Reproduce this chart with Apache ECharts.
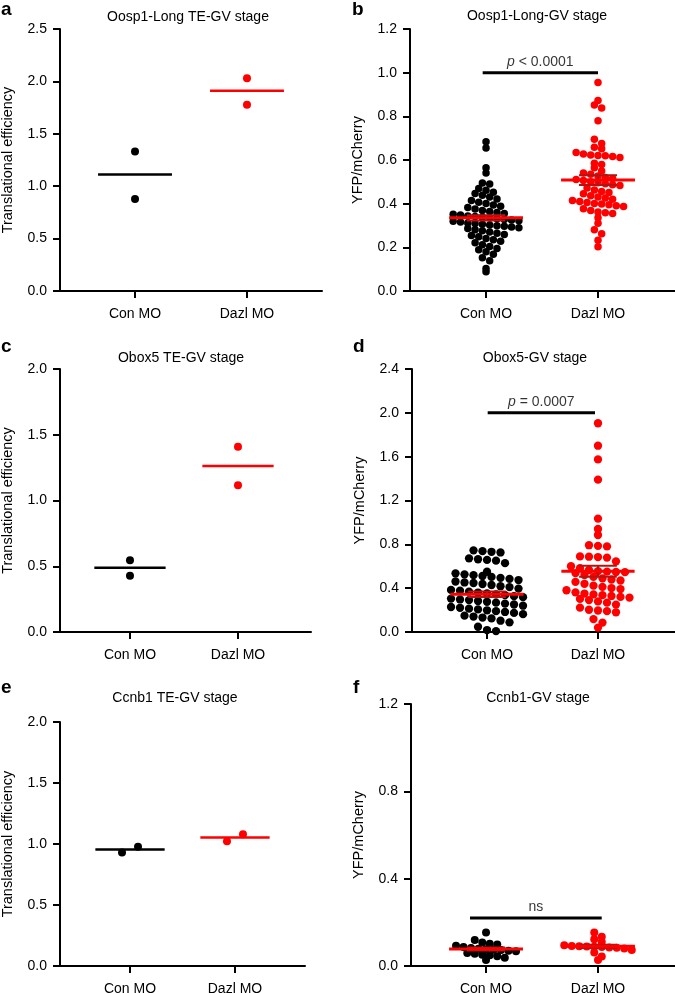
<!DOCTYPE html>
<html><head><meta charset="utf-8">
<script src="https://cdn.jsdelivr.net/npm/echarts@6/dist/echarts.min.js"></script>
<style>html,body{margin:0;padding:0;background:#fff}#c{width:675px;height:993px}</style>
</head><body><div id="c"></div>
<script>
// ---------------- data ----------------
const categories = ['Con MO', 'Dazl MO'];

// a: Oosp1-Long TE-GV stage
const aCon = [1.331, 0.879];
const aDazl = [2.029, 1.777];
const aMean = [1.111, 1.911];

// b: Oosp1-Long-GV stage
const bCon = [0.684, 0.655, 0.565, 0.54, 0.495, 0.49,
  0.47, 0.461, 0.452,
  0.446, 0.438, 0.43, 0.421,
  0.414, 0.407, 0.401, 0.394, 0.388,
  0.382, 0.376, 0.369, 0.364, 0.359, 0.355,
  0.351, 0.348, 0.344, 0.341, 0.338, 0.334, 0.331, 0.328, 0.325, 0.322,
  0.319, 0.316, 0.312, 0.309, 0.306, 0.302, 0.299, 0.296, 0.293, 0.29,
  0.286, 0.281, 0.276, 0.27, 0.265, 0.259,
  0.254, 0.248, 0.241, 0.235, 0.228,
  0.221, 0.212, 0.204, 0.195,
  0.189, 0.18, 0.168,
  0.152, 0.138,
  0.103, 0.088];
const bDazl = [0.955, 0.872, 0.852, 0.838, 0.78, 0.695, 0.676, 0.658, 0.652,
  0.634, 0.627, 0.623, 0.621, 0.619, 0.616, 0.612,
  0.585, 0.579,
  0.565, 0.55,
  0.541, 0.535, 0.527, 0.52, 0.515,
  0.511, 0.506, 0.5, 0.496, 0.491, 0.487, 0.483,
  0.472, 0.463, 0.456, 0.451,
  0.445, 0.436, 0.43, 0.426, 0.42,
  0.414, 0.41, 0.405, 0.401, 0.398, 0.395, 0.391, 0.387,
  0.377, 0.369, 0.362, 0.358, 0.355,
  0.336, 0.31, 0.281, 0.262, 0.232, 0.203];
const bMean = [0.335, 0.508];
const bSem = [0.012, 0.022];

// c: Obox5 TE-GV stage
const cCon = [0.546, 0.427];
const cDazl = [1.408, 1.116];
const cMean = [0.488, 1.263];

// d: Obox5-GV stage
const dCon = [0.745, 0.738, 0.732, 0.726,
  0.672, 0.664, 0.658, 0.651, 0.628,
  0.55,
  0.535, 0.526, 0.519, 0.511, 0.503, 0.494, 0.485, 0.474,
  0.461, 0.452, 0.447, 0.438, 0.429, 0.418, 0.41, 0.396,
  0.384, 0.377, 0.369, 0.36, 0.352, 0.344, 0.336, 0.327, 0.318,
  0.305, 0.297, 0.291, 0.283, 0.276, 0.268, 0.259, 0.251, 0.24,
  0.228, 0.221, 0.213, 0.206, 0.198, 0.19, 0.183, 0.174, 0.163,
  0.149, 0.141, 0.132, 0.124, 0.103, 0.088,
  0.048, 0.018, 0.008];
const dDazl = [1.905, 1.70, 1.575, 1.39, 1.035, 0.94, 0.885,
  0.792, 0.786, 0.781,
  0.69, 0.687, 0.684, 0.679, 0.645,
  0.60, 0.582, 0.566, 0.556, 0.551, 0.548, 0.546,
  0.538, 0.52, 0.503, 0.49, 0.479, 0.47,
  0.458, 0.44, 0.423, 0.412, 0.401, 0.392,
  0.381, 0.362, 0.351, 0.343, 0.336, 0.329, 0.32, 0.314,
  0.302, 0.291, 0.279, 0.268, 0.25,
  0.222, 0.203, 0.196, 0.19, 0.18,
  0.118, 0.086, 0.04];
const dMean = [0.345, 0.555];
const dSem = [0.025, 0.05];

// e: Ccnb1 TE-GV stage
const eCon = [0.93, 0.977];
const eDazl = [1.023, 1.08];
const eMean = [0.955, 1.053];

// f: Ccnb1-GV stage
const fCon = [0.153, 0.119, 0.108, 0.102, 0.098, 0.093, 0.087, 0.083, 0.079, 0.077,
  0.075, 0.073, 0.07, 0.067, 0.06, 0.056, 0.052, 0.049, 0.045, 0.038, 0.028];
const fDazl = [0.153, 0.134, 0.122, 0.11, 0.095, 0.092, 0.09, 0.089, 0.088, 0.087,
  0.085, 0.084, 0.08, 0.073, 0.062, 0.043, 0.028];
const fMean = [0.078, 0.09];
const fSem = [0.007, 0.007];

// significance annotations: [x start, x end, y, text]
const sigB = [0.97, 2.0, 1.0, 'p < 0.0001'];
const sigD = [1.006, 1.973, 2.0, 'p = 0.0007'];
const sigF = [0.857, 2.033, 0.22, 'ns'];

// ---------------- chart ----------------
const FONT = '"Liberation Sans", Arial, Helvetica, sans-serif';
const RED = '#ff0000';
const SEMRED = '#b01414';

const panels = [
  {letter:'a', title:'Oosp1-Long TE-GV stage', yName:'Translational efficiency', con:aCon, dazl:aDazl, mean:aMean, sem:null,
   meanColors:['#000', RED], grid:{left:60, top:29, width:262, height:262}, xr:[0.33, 2.67], yr:[0, 2.5, 0.5],
   sym:8, rowH:7, sp:8, letterXY:[1, 0], titleXY:[188, 17], sig:null},
  {letter:'b', title:'Oosp1-Long-GV stage', yName:'YFP/mCherry', con:bCon, dazl:bDazl, mean:bMean, sem:bSem,
   meanColors:[RED, RED], grid:{left:410, top:29, width:265, height:262}, xr:[0.321, 2.6875], yr:[0, 1.2, 0.2],
   sym:7.5, rowH:7, sp:7.3, letterXY:[352, 0], titleXY:[537, 16], sig:sigB},
  {letter:'c', title:'Obox5 TE-GV stage', yName:'Translational efficiency', con:cCon, dazl:cDazl, mean:cMean, sem:null,
   meanColors:['#000', RED], grid:{left:60, top:369, width:251, height:263}, xr:[0.352, 2.676], yr:[0, 2.0, 0.5],
   sym:8, rowH:7, sp:8, letterXY:[1, 337], titleXY:[181, 358], sig:null},
  {letter:'d', title:'Obox5-GV stage', yName:'YFP/mCherry', con:dCon, dazl:dDazl, mean:dMean, sem:dSem,
   meanColors:[RED, RED], grid:{left:412, top:369, width:263, height:263}, xr:[0.324, 2.694], yr:[0, 2.4, 0.4],
   sym:8.3, rowH:8.5, sp:9, letterXY:[353, 337], titleXY:[535, 358], sig:sigD},
  {letter:'e', title:'Ccnb1 TE-GV stage', yName:'Translational efficiency', con:eCon, dazl:eDazl, mean:eMean, sem:null,
   meanColors:['#000', RED], grid:{left:60, top:722, width:245, height:244}, xr:[0.333, 2.667], yr:[0, 2.0, 0.5],
   sym:8, rowH:12, sp:16, letterXY:[1, 678], titleXY:[175, 698], sig:null},
  {letter:'f', title:'Ccnb1-GV stage', yName:'YFP/mCherry', con:fCon, dazl:fDazl, mean:fMean, sem:fSem,
   meanColors:[RED, RED], grid:{left:411, top:704, width:264, height:262}, xr:[0.33, 2.6875], yr:[0, 1.2, 0.4],
   sym:8, rowH:7, sp:7.5, letterXY:[353, 678], titleXY:[538, 698], sig:sigF}
];

const chart = echarts.init(document.getElementById('c'), null, {renderer: 'canvas'});

const axisLineStyle = {color: '#000', width: 2};
const grids = [], xAxes = [], yAxes = [], graphics = [];
panels.forEach((p, i) => {
  grids.push(Object.assign({outerBoundsMode: 'none', containLabel: false}, p.grid));
  xAxes.push({
    type: 'value', gridIndex: i, min: p.xr[0], max: p.xr[1],
    splitLine: {show: false},
    axisLine: {show: true, onZero: false, lineStyle: axisLineStyle},
    axisTick: {show: true, customValues: [1, 2], length: 7, lineStyle: axisLineStyle},
    axisLabel: {show: true, customValues: [1, 2], margin: 16, color: '#000', fontSize: 14, fontFamily: FONT,
      formatter: v => categories[Math.round(v) - 1]}
  });
  yAxes.push({
    type: 'value', gridIndex: i, min: p.yr[0], max: p.yr[1], interval: p.yr[2],
    splitLine: {show: false},
    axisLine: {show: true, onZero: false, lineStyle: axisLineStyle},
    axisTick: {show: true, length: 7, lineStyle: axisLineStyle},
    axisLabel: {margin: 13, color: '#000', fontSize: 14, fontFamily: FONT, formatter: v => v.toFixed(1)},
    name: p.yName, nameLocation: 'middle', nameGap: 45,
    nameTextStyle: {color: '#000', fontSize: 14.5, fontFamily: FONT}
  });
  graphics.push({type: 'text', x: p.letterXY[0], y: p.letterXY[1],
    style: {text: p.letter, font: 'bold 19px ' + FONT, fill: '#000', textVerticalAlign: 'top'}});
  graphics.push({type: 'text', x: p.titleXY[0], y: p.titleXY[1],
    style: {text: p.title, font: '14px ' + FONT, fill: '#000', textAlign: 'center', textVerticalAlign: 'middle'}});
});

chart.setOption({
  animation: false,
  backgroundColor: '#fff',
  grid: grids, xAxis: xAxes, yAxis: yAxes, graphic: graphics, series: []
});

// Prism-like column scatter: points binned into pixel rows, spread horizontally within each row.
function swarm(values, gi, center, rowH, sp) {
  const y0 = chart.convertToPixel({gridIndex: gi}, [center, 0])[1];
  const px = values.map(v => chart.convertToPixel({gridIndex: gi}, [center, v]));
  const rows = new Map();
  values.forEach((v, i) => {
    const k = Math.floor((y0 - px[i][1]) / rowH + 1e-6);
    if (!rows.has(k)) rows.set(k, []);
    rows.get(k).push(i);
  });
  const out = [];
  rows.forEach(idx => {
    const n = idx.length;
    idx.forEach((i, j) => {
      const xp = px[i][0] + (j - (n - 1) / 2) * sp;
      const x = chart.convertFromPixel({gridIndex: gi}, [xp, px[i][1]])[0];
      out.push([x, values[i]]);
    });
  });
  return out;
}

const series = [];
panels.forEach((p, i) => {
  [[p.con, 1, '#000'], [p.dazl, 2, RED]].forEach(([vals, center, color]) => {
    series.push({
      type: 'scatter', xAxisIndex: i, yAxisIndex: i, symbol: 'circle', symbolSize: p.sym,
      itemStyle: {color: color, opacity: 1}, z: 2, silent: true,
      data: swarm(vals, i, center, p.rowH, p.sp)
    });
  });
  const meanData = p.mean.map((m, k) => [k + 1, m, p.sem ? p.sem[k] : 0]);
  series.push({
    type: 'custom', xAxisIndex: i, yAxisIndex: i, z: 5, silent: true,
    encode: {x: 0, y: 1},
    data: meanData,
    renderItem: (params, api) => {
      const k = params.dataIndex;
      const x = api.value(0), m = api.value(1), s = api.value(2);
      const c = api.coord([x, m]);
      const hw = api.size([0.33, 0])[0];
      const children = [];
      if (s > 0) {
        const t = api.coord([x, m + s]), b = api.coord([x, m - s]);
        const cw = api.size([0.17, 0])[0];
        const st = {stroke: SEMRED, lineWidth: 2};
        children.push({type: 'line', shape: {x1: c[0], y1: t[1], x2: c[0], y2: b[1]}, style: st});
        children.push({type: 'line', shape: {x1: c[0] - cw, y1: t[1], x2: c[0] + cw, y2: t[1]}, style: st});
        children.push({type: 'line', shape: {x1: c[0] - cw, y1: b[1], x2: c[0] + cw, y2: b[1]}, style: st});
      }
      children.push({type: 'line', shape: {x1: c[0] - hw, y1: c[1], x2: c[0] + hw, y2: c[1]},
        style: {stroke: p.meanColors[k], lineWidth: p.sem ? 3 : 2.5}});
      return {type: 'group', children: children};
    }
  });
  if (p.sig) {
    const [x1, x2, y, txt] = p.sig;
    series.push({
      type: 'line', xAxisIndex: i, yAxisIndex: i, z: 4, silent: true, symbol: 'none',
      lineStyle: {color: '#000', width: 3}, data: [[x1, y], [x2, y]]
    });
    const isP = txt.charAt(0) === 'p';
    series.push({
      type: 'scatter', xAxisIndex: i, yAxisIndex: i, z: 4, silent: true, symbolSize: 0,
      data: [[(x1 + x2) / 2, y]],
      label: {show: true, position: 'top', distance: 4, color: '#000', fontSize: 14, fontFamily: FONT,
        formatter: isP ? '{i|p}' + txt.slice(1) : txt,
        rich: {i: {fontStyle: 'italic', fontSize: 14, fontFamily: FONT, color: '#000'}}}
    });
  }
});

chart.setOption({series: series});
</script>
</body></html>
